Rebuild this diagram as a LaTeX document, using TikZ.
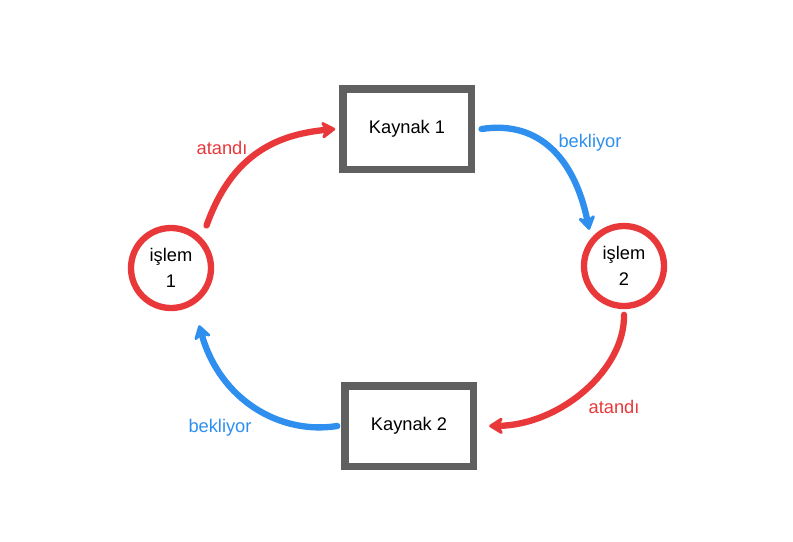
\documentclass[tikz,border=0pt]{standalone}
\usepackage{fontspec}
\setmainfont{Liberation Sans}
\usetikzlibrary{arrows.meta}
\definecolor{kirmizi}{RGB}{232,56,58}
\definecolor{mavi}{RGB}{46,143,239}
\definecolor{gri}{RGB}{96,96,96}

\begin{document}
\begin{tikzpicture}[x=0.025cm,y=-0.025cm,
    font=\fontsize{13}{16}\selectfont,
    kaynak/.style={draw=gri,line width=5pt,minimum width=3.2cm,minimum height=2.0cm},
    islem/.style={circle,draw=kirmizi,line width=4.5pt,minimum size=2.0cm,align=center},
    ok/.style={line width=4.5pt,line cap=round,-{Stealth[length=12pt,width=15pt,inset=4pt,round]}},
    etiket/.style={font=\fontsize{13}{16}\selectfont}]
  \useasboundingbox (0,0) rectangle (793,541);
  % kaynaklar ve islemler
  \node[kaynak] (k1) at (407,129) {Kaynak 1};
  \node[kaynak] (k2) at (409,426) {Kaynak 2};
  \node[islem] (i1) at (171,268) {işlem\\[2pt]1};
  \node[islem] (i2) at (624,266) {işlem\\[2pt]2};
  % oklar
  \draw[ok,kirmizi] ([shift={(5,-12)}]i1.north east) .. controls (230,160) and (270,135) .. ([xshift=-3pt]k1.west);
  \draw[ok,mavi] ([xshift=5pt]k1.east) .. controls (540,120) and (575,160) .. ([yshift=4pt,xshift=-3pt]i2.north west);
  \draw[ok,kirmizi] ([yshift=-4pt]i2.south) .. controls (625,370) and (560,425) .. ([xshift=9pt]k2.east);
  \draw[ok,mavi] ([xshift=-3pt]k2.west) .. controls (280,435) and (220,400) .. ([yshift=-10pt,xshift=20pt]i1.south);
  % etiketler
  \node[etiket,text=kirmizi] (e1) at (222,148) {atandı};
  \node[etiket,text=mavi] (e2) at (590,143) {bekliyor};
  \node[etiket,text=kirmizi] (e3) at (614,407) {atandı};
  \node[etiket,text=mavi] (e4) at (220,428) {bekliyor};
\end{tikzpicture}
\end{document}
